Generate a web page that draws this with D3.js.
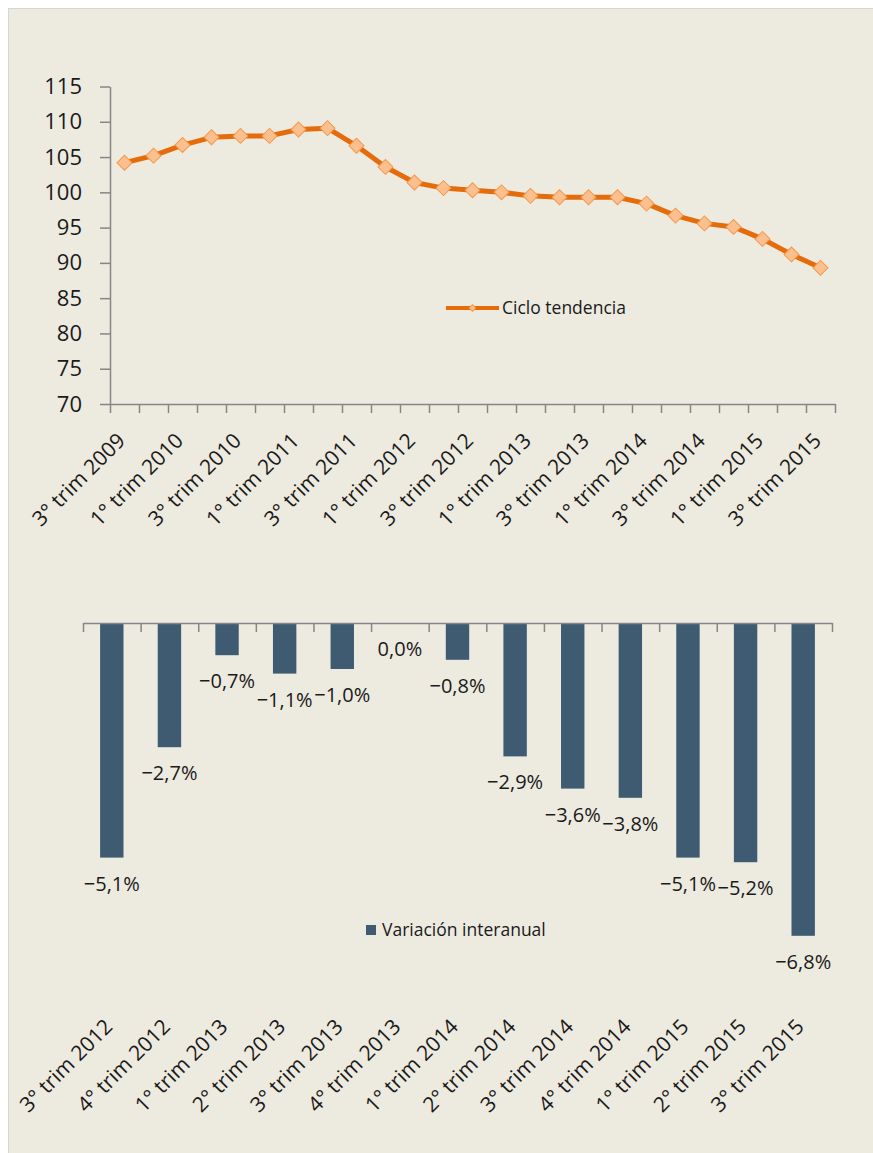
<!DOCTYPE html>
<html>
<head>
<meta charset="utf-8">
<script src="https://cdn.jsdelivr.net/npm/d3@7"></script>
<style>
  body { margin: 0; background: #fff; }
  svg text { font-family: "Open Sans", "DejaVu Sans", sans-serif; fill: #1a1a1a; }
</style>
</head>
<body>
<svg id="chart"></svg>
<script>
// top chart: trend-cycle index
var quarters = ["3° trim 2009","4° trim 2009","1° trim 2010","2° trim 2010","3° trim 2010","4° trim 2010",
  "1° trim 2011","2° trim 2011","3° trim 2011","4° trim 2011","1° trim 2012","2° trim 2012",
  "3° trim 2012","4° trim 2012","1° trim 2013","2° trim 2013","3° trim 2013","4° trim 2013",
  "1° trim 2014","2° trim 2014","3° trim 2014","4° trim 2014","1° trim 2015","2° trim 2015","3° trim 2015"];
var ciclo = [104.2,105.2,106.7,107.8,108.0,108.0,108.9,109.1,106.6,103.6,101.4,100.6,
  100.3,100.0,99.5,99.3,99.3,99.3,98.4,96.7,95.6,95.1,93.4,91.2,89.3];
var yTicks = [70,75,80,85,90,95,100,105,110,115];

// bottom chart: year-on-year change
var barQuarters = ["3° trim 2012","4° trim 2012","1° trim 2013","2° trim 2013","3° trim 2013","4° trim 2013",
  "1° trim 2014","2° trim 2014","3° trim 2014","4° trim 2014","1° trim 2015","2° trim 2015","3° trim 2015"];
var variacion = [-5.1,-2.7,-0.7,-1.1,-1.0,0.0,-0.8,-2.9,-3.6,-3.8,-5.1,-5.2,-6.8];

var width = 873, height = 1153;
var svg = d3.select("#chart").attr("width", width).attr("height", height);

// panel
svg.append("rect").attr("x", 8.5).attr("y", 8.5).attr("width", width).attr("height", height)
  .attr("fill", "#edeae0").attr("stroke", "#d6d6d6");

var axisColor = "#868686";

// ---------- top chart ----------
var x1 = d3.scaleLinear().domain([0, quarters.length]).range([110, 835]);
var y1 = d3.scaleLinear().domain([70, 115]).range([404, 86.5]);

var yAx = svg.append("g").attr("transform", "translate(110,0)")
  .call(d3.axisLeft(y1).tickValues(yTicks).tickSize(10).tickPadding(18).tickSizeOuter(0));
yAx.selectAll("line, path").attr("stroke", axisColor).attr("stroke-width", 1.5);
yAx.selectAll("text").style("font-size", "22px").attr("fill", "#1a1a1a");

var xAx = svg.append("g").attr("transform", "translate(0,404)")
  .call(d3.axisBottom(x1).tickValues(d3.range(quarters.length + 1)).tickFormat("").tickSize(9).tickSizeOuter(0));
xAx.selectAll("line, path").attr("stroke", axisColor).attr("stroke-width", 1.5);

svg.append("g").selectAll("text")
  .data(quarters)
  .enter().filter(function(d, i) { return i % 2 === 0; })
  .append("text")
    .attr("text-anchor", "end")
    .attr("transform", function(d, i) {
      var idx = quarters.indexOf(d);
      return "translate(" + (x1(idx + 0.5) + 2) + ",442) rotate(-45)";
    })
    .style("font-size", "21px")
    .text(function(d) { return d; });

var line = d3.line()
  .x(function(d, i) { return x1(i + 0.5); })
  .y(function(d) { return y1(d); });

svg.append("path").datum(ciclo)
  .attr("d", line)
  .attr("fill", "none")
  .attr("stroke", "#e46c0a")
  .attr("stroke-width", 5)
  .attr("stroke-linejoin", "round");

var diamond = d3.symbol().type(d3.symbolSquare).size(112);
svg.append("g").selectAll("path")
  .data(ciclo)
  .enter().append("path")
    .attr("d", diamond)
    .attr("transform", function(d, i) { return "translate(" + x1(i + 0.5) + "," + y1(d) + ") rotate(45)"; })
    .attr("fill", "#fac090")
    .attr("stroke", "#f79646")
    .attr("stroke-width", 1);

// legend top
var lg1 = svg.append("g").attr("transform", "translate(446,308)");
lg1.append("line").attr("x1", 0).attr("x2", 53).attr("stroke", "#e46c0a").attr("stroke-width", 4);
lg1.append("path").attr("d", d3.symbol().type(d3.symbolSquare).size(22)).attr("transform", "translate(26.5,0) rotate(45)")
  .attr("fill", "#fac090").attr("stroke", "#f79646");
lg1.append("text").attr("x", 56).attr("dy", "0.35em").style("font-size", "17.5px").text("Ciclo tendencia");

// ---------- bottom chart ----------
var x2 = d3.scaleLinear().domain([0, barQuarters.length]).range([83, 832]);
var y2 = d3.scaleLinear().domain([-8, 0]).range([991, 623]);
var barW = 23.4;

svg.append("g").selectAll("rect")
  .data(variacion)
  .enter().append("rect")
    .attr("x", function(d, i) { return x2(i + 0.5) - barW / 2; })
    .attr("y", y2(0))
    .attr("width", barW)
    .attr("height", function(d) { return y2(d) - y2(0); })
    .attr("fill", "#3e5b72");

var xAx2 = svg.append("g").attr("transform", "translate(0," + y2(0) + ")")
  .call(d3.axisBottom(x2).tickValues(d3.range(barQuarters.length + 1)).tickFormat("").tickSize(9).tickSizeOuter(0));
xAx2.selectAll("line, path").attr("stroke", axisColor).attr("stroke-width", 1.5);

function fmt(v) {
  return v.toFixed(1).replace(".", ",").replace("-", "\u2212") + "%";
}

svg.append("g").selectAll("text")
  .data(variacion)
  .enter().append("text")
    .attr("x", function(d, i) { return x2(i + 0.5); })
    .attr("y", function(d) { return y2(d) + 26; })
    .attr("dy", "0.35em")
    .attr("text-anchor", "middle")
    .style("font-size", "20px")
    .text(fmt);

svg.append("g").selectAll("text")
  .data(barQuarters)
  .enter().append("text")
    .attr("text-anchor", "end")
    .attr("transform", function(d, i) { return "translate(" + (x2(i + 0.5) + 2) + ",1028) rotate(-45)"; })
    .style("font-size", "21px")
    .text(function(d) { return d; });

// legend bottom
var lg2 = svg.append("g").attr("transform", "translate(366,930)");
lg2.append("rect").attr("x", 0).attr("y", -5).attr("width", 10).attr("height", 10).attr("fill", "#3e5b72");
lg2.append("text").attr("x", 16).attr("dy", "0.35em").style("font-size", "17.5px").text("Variación interanual");
</script>
</body>
</html>
